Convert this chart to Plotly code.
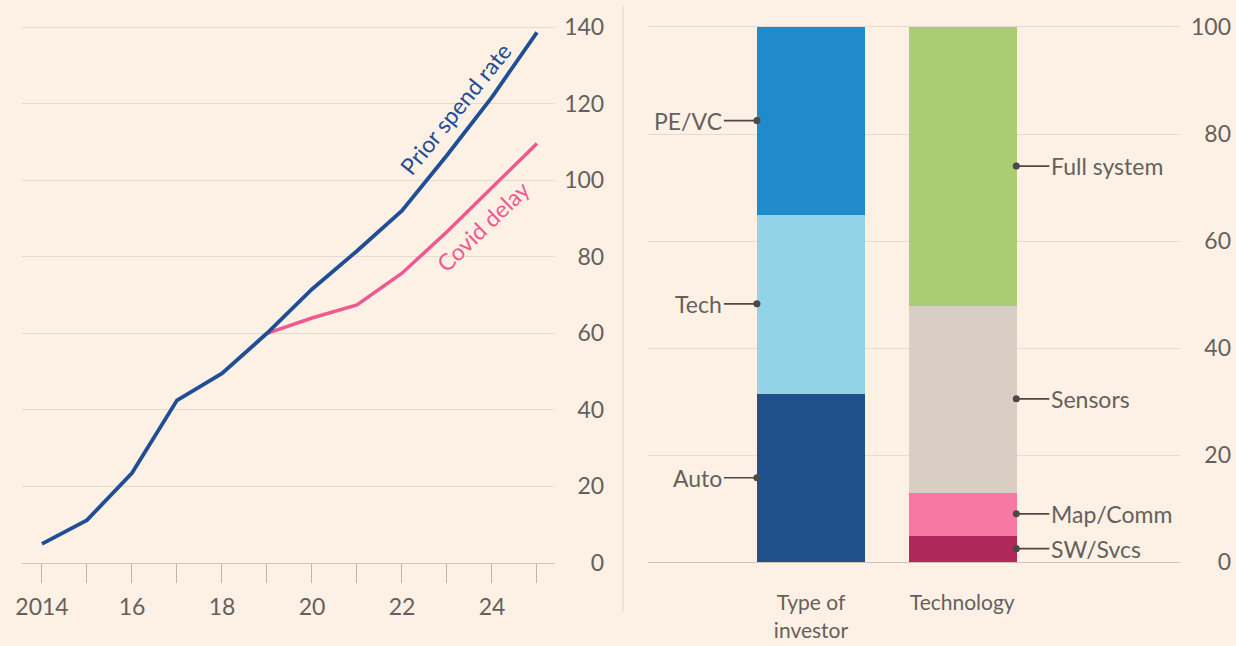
import plotly.graph_objects as go

# ---------------- data ----------------
years = [2014, 2015, 2016, 2017, 2018, 2019, 2020, 2021, 2022, 2023, 2024, 2025]
prior_spend = [5, 11.2, 23.5, 42.5, 49.5, 60, 71.5, 81.5, 92, 106.5, 121.7, 138.6]
covid_years = [2019, 2020, 2021, 2022, 2023, 2024, 2025]
covid_delay = [60, 64, 67.4, 75.7, 86.5, 98, 109.6]
left_yticks = [0, 20, 40, 60, 80, 100, 120, 140]
left_xtick_text = ["2014", "", "16", "", "18", "", "20", "", "22", "", "24", ""]

bar_categories = ["Type of<br>investor", "Technology"]
investor_labels = ["Auto", "Tech", "PE/VC"]
investor_values = [31.5, 33.5, 35]
tech_labels = ["SW/Svcs", "Map/Comm", "Sensors", "Full system"]
tech_values = [5, 8, 35, 52]
right_yticks = [0, 20, 40, 60, 80, 100]

# ---------------- styles ----------------
BG = "#fdf1e5"
GRID = "#e6dbd0"
ZERO = "#cfc4b9"
TXT = "#66605c"
LEAD = "#4d4845"
FONT = "Lato"
FS = 23
BLUE = "#1f4e96"
PINK = "#ee5a8f"
investor_colors = ["#1f5089", "#93d3e8", "#208bcc"]
tech_colors = ["#b0285a", "#f878a4", "#d9cec3", "#abcc72"]
BAR_W = 0.715

fig = go.Figure()

# left line chart
fig.add_trace(go.Scatter(x=covid_years, y=covid_delay, mode="lines",
                         line=dict(color=PINK, width=3.5), xaxis="x", yaxis="y",
                         showlegend=False, hoverinfo="skip"))
fig.add_trace(go.Scatter(x=years, y=prior_spend, mode="lines",
                         line=dict(color=BLUE, width=3.8), xaxis="x", yaxis="y",
                         showlegend=False, hoverinfo="skip"))

# right stacked bars
for lab, val, col in zip(investor_labels, investor_values, investor_colors):
    fig.add_trace(go.Bar(x=[0], y=[val], width=BAR_W, marker=dict(color=col, line=dict(width=0)),
                         xaxis="x2", yaxis="y2", showlegend=False, name=lab))
for lab, val, col in zip(tech_labels, tech_values, tech_colors):
    fig.add_trace(go.Bar(x=[1], y=[val], width=BAR_W, marker=dict(color=col, line=dict(width=0)),
                         xaxis="x2", yaxis="y2", showlegend=False, name=lab))

annotations = []
# leader labels
cum = 0
for lab, val in zip(investor_labels, investor_values):
    mid = cum + val / 2
    cum += val
    annotations.append(dict(x=0 - BAR_W / 2, y=mid, xref="x2", yref="y2", text=lab,
                            showarrow=True, ax=-33, ay=0, xanchor="right",
                            arrowhead=6, arrowsize=1.1, arrowwidth=1.6, arrowcolor=LEAD,
                            font=dict(family=FONT, size=FS, color=TXT)))
cum = 0
for lab, val in zip(tech_labels, tech_values):
    mid = cum + val / 2
    cum += val
    annotations.append(dict(x=1 + BAR_W / 2, y=mid, xref="x2", yref="y2", text=lab,
                            showarrow=True, ax=33, ay=0, xanchor="left",
                            arrowhead=6, arrowsize=1.1, arrowwidth=1.6, arrowcolor=LEAD,
                            font=dict(family=FONT, size=FS, color=TXT)))

# line labels
annotations.append(dict(x=2023.2, y=118.8, xref="x", yref="y", text="Prior spend rate",
                        showarrow=False, textangle=-51,
                        font=dict(family=FONT, size=FS, color=BLUE)))
annotations.append(dict(x=2023.8, y=88, xref="x", yref="y", text="Covid delay",
                        showarrow=False, textangle=-44,
                        font=dict(family=FONT, size=FS, color=PINK)))

fig.update_layout(
    width=1236, height=646,
    paper_bgcolor=BG, plot_bgcolor=BG,
    margin=dict(l=0, r=0, t=0, b=0, autoexpand=False),
    font=dict(family=FONT, size=FS, color=TXT),
    barmode="stack", bargap=0,
    annotations=annotations,
    xaxis=dict(domain=[0.0178, 0.449], range=[2013.556, 2025.4], anchor="y",
               tickvals=years, ticktext=left_xtick_text, ticks="outside", ticklen=19,
               tickwidth=1.2, tickcolor="#c0b5ab", showgrid=False, zeroline=False,
               showline=True, linecolor=ZERO, linewidth=1.2, ticklabelstandoff=4,
               automargin=False, tickfont=dict(family=FONT, size=FS, color=TXT)),
    yaxis=dict(domain=[0.1285, 0.9641], range=[0, 141], anchor="free", position=0.4888,
               side="left", tickvals=left_yticks, showgrid=True, gridcolor=GRID, gridwidth=1,
               zeroline=False, showline=False, ticks="", automargin=False,
               tickfont=dict(family=FONT, size=FS, color=TXT)),
    xaxis2=dict(domain=[0.524, 0.9547], range=[-1.08, 2.44], anchor="y2",
                tickvals=[0, 1], ticktext=bar_categories, ticks="outside", ticklen=19,
                tickcolor="rgba(0,0,0,0)", showgrid=False, zeroline=False,
                showline=True, linecolor=ZERO, linewidth=1.2, ticklabelstandoff=3,
                automargin=False, tickfont=dict(family=FONT, size=21, color=TXT)),
    yaxis2=dict(domain=[0.130, 0.9665], range=[0, 101], anchor="free", position=0.996,
                side="left", tickvals=right_yticks, showgrid=True, gridcolor=GRID, gridwidth=1,
                zeroline=False, showline=False, ticks="", automargin=False,
                tickfont=dict(family=FONT, size=FS, color=TXT)),
    shapes=[dict(type="line", xref="paper", yref="paper", x0=0.504, x1=0.504,
                 y0=0.053, y1=0.99, line=dict(color="#e3d8cd", width=1.2))],
)

fig.write_html("out.html", config={"displayModeBar": False},
               post_script="document.body.style.margin='0';document.body.style.padding='0';")
